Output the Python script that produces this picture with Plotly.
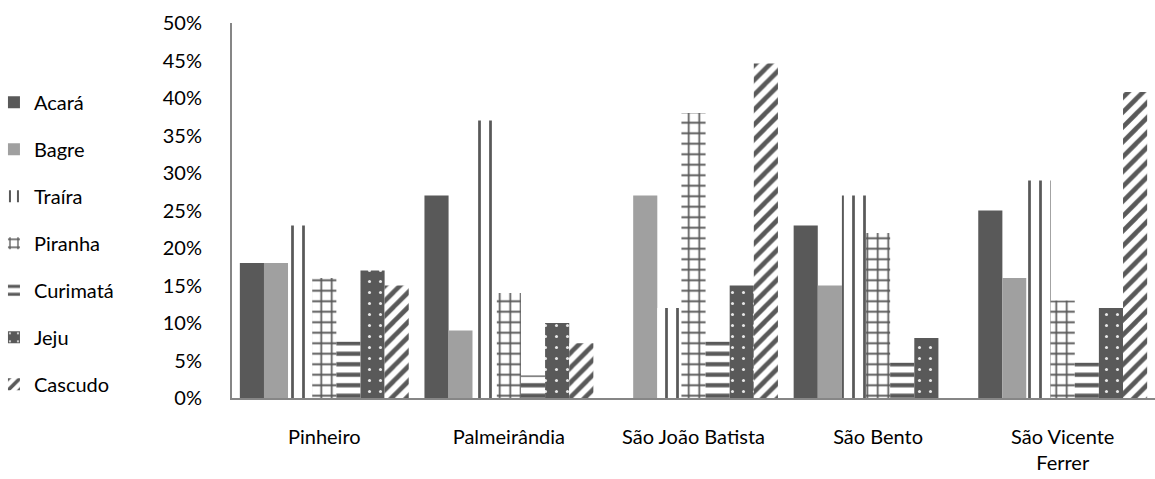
import plotly.graph_objects as go

# Municipalities on the x axis
municipios = ["Pinheiro", "Palmeirândia", "São João Batista", "São Bento", "São Vicente<br>Ferrer"]

# Share of each fish species per municipality (fractions)
acara = [0.18, 0.27, 0.0, 0.23, 0.25]
bagre = [0.18, 0.09, 0.27, 0.15, 0.16]
traira = [0.23, 0.37, 0.12, 0.27, 0.29]
piranha = [0.16, 0.14, 0.38, 0.22, 0.13]
curimata = [0.075, 0.03, 0.075, 0.047, 0.047]
jeju = [0.17, 0.10, 0.15, 0.08, 0.12]
cascudo = [0.15, 0.073, 0.446, 0.0, 0.408]

DARK = "#595959"
LIGHT = "#a0a0a0"

series = [
    ("Acará", acara, dict(color=DARK)),
    ("Bagre", bagre, dict(color=LIGHT)),
    ("Traíra", traira, dict(color="white",
                            pattern=dict(shape="|", fgcolor=DARK, bgcolor="white",
                                         size=11, solidity=0.25, fillmode="replace"))),
    ("Piranha", piranha, dict(color="white",
                              pattern=dict(shape="+", fgcolor=DARK, bgcolor="white",
                                           size=10.5, solidity=0.3, fillmode="replace"))),
    ("Curimatá", curimata, dict(color="white",
                                pattern=dict(shape="-", fgcolor=DARK, bgcolor="white",
                                             size=10.5, solidity=0.4, fillmode="replace"))),
    ("Jeju", jeju, dict(color=DARK,
                        pattern=dict(shape=".", fgcolor="#e8e8e8", bgcolor=DARK,
                                     size=11, solidity=0.06, fillmode="replace"))),
    ("Cascudo", cascudo, dict(color="white",
                              pattern=dict(shape="/", fgcolor=DARK, bgcolor="white",
                                           size=10.5, solidity=0.45, fillmode="replace"))),
]

fig = go.Figure()
for i, (name, vals, marker) in enumerate(series):
    fig.add_trace(go.Bar(
        name=name, x=municipios, y=vals,
        marker=dict(line=dict(width=0), **marker),
        legendgroup=f"g{i}",
    ))

FONT = "Lato"
FS = 20

fig.update_layout(
    width=1155, height=479,
    margin=dict(l=232, r=0, t=23, b=81, autoexpand=False),
    paper_bgcolor="white", plot_bgcolor="white",
    barmode="group", bargap=0.085, bargroupgap=0,
    font=dict(family=FONT, size=FS, color="#000000"),
    showlegend=True,
    legend=dict(
        x=-0.2579, y=0.492, xref="paper", yref="container",
        xanchor="left", yanchor="middle",
        font=dict(family=FONT, size=FS, color="#000000"),
        tracegroupgap=18, itemwidth=30, maxheight=470,
        bgcolor="rgba(0,0,0,0)",
    ),
    xaxis=dict(
        showgrid=False, showline=True, linecolor="#868686", linewidth=2,
        ticks="", tickfont=dict(family=FONT, size=FS, color="#000000"),
        ticklabelstandoff=20,
    ),
    yaxis=dict(
        range=[0, 0.5], dtick=0.05, tickformat=".0%",
        showgrid=False, showline=True, linecolor="#868686", linewidth=2,
        ticks="", zeroline=False,
        tickfont=dict(family=FONT, size=FS, color="#000000"),
        ticklabelstandoff=24,
    ),
)

fig.write_html("out.html")
